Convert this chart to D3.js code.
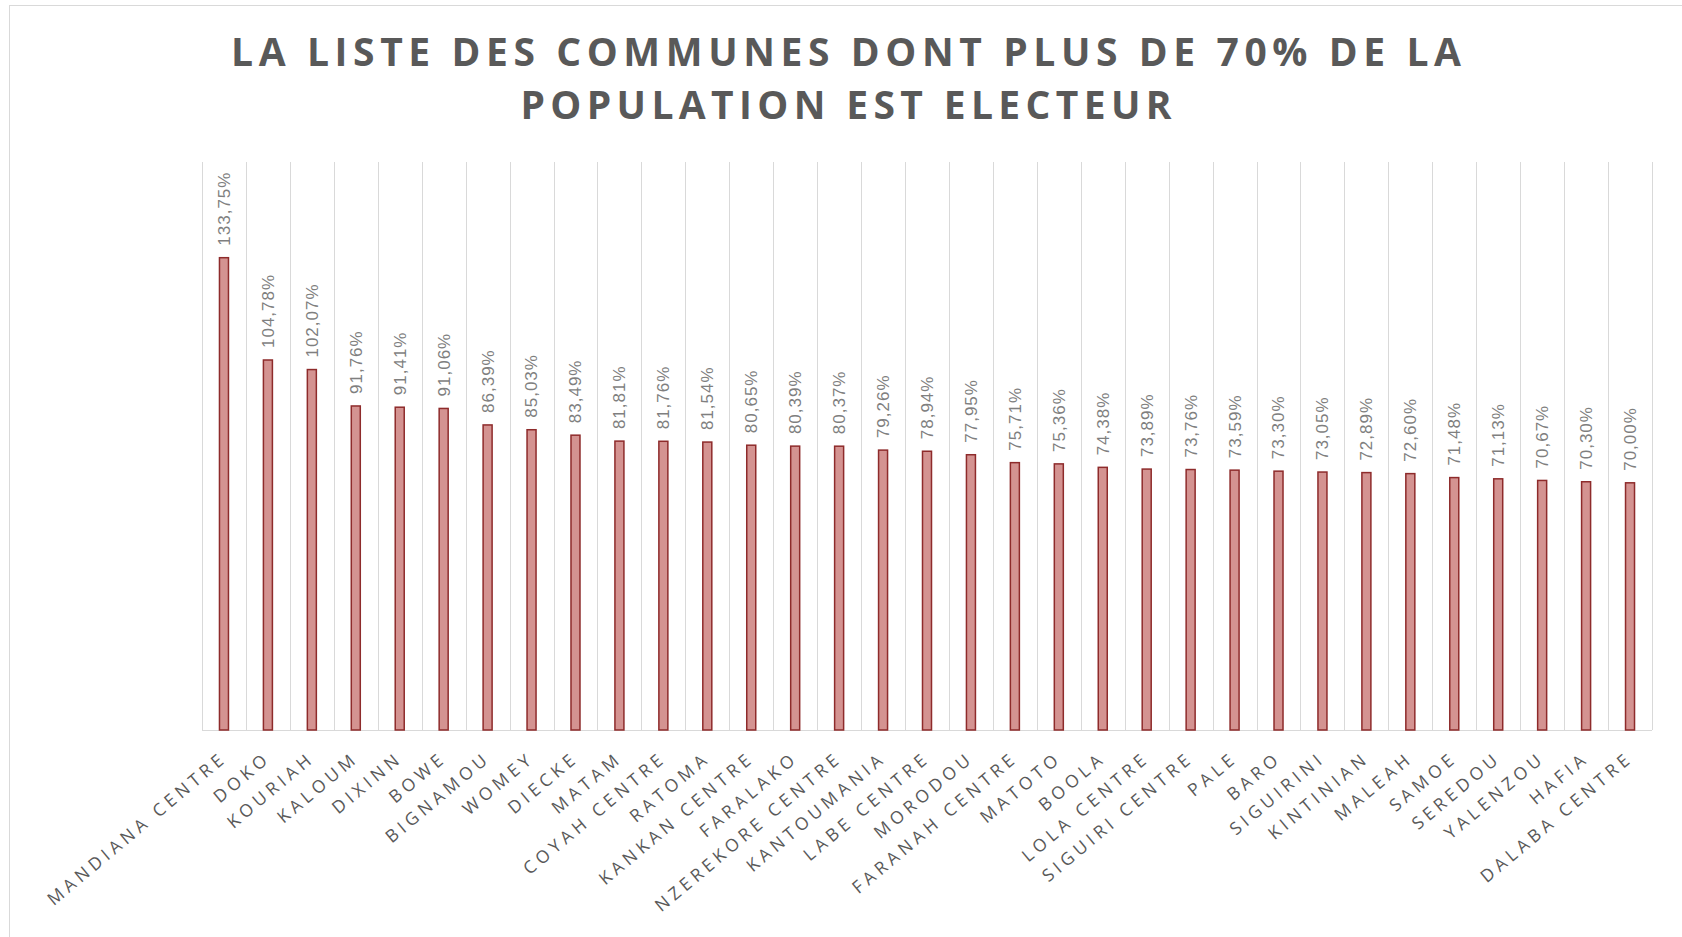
<!DOCTYPE html>
<html>
<head>
<meta charset="utf-8">
<script src="https://cdn.jsdelivr.net/npm/d3@7"></script>
<style>
  body { margin: 0; background: #fff; }
  svg { display: block; }
</style>
</head>
<body>
<svg id="chart" width="1682" height="937"></svg>
<script>
// communes and their share of registered voters (%)
var communes = ["MANDIANA CENTRE", "DOKO", "KOURIAH", "KALOUM", "DIXINN", "BOWE", "BIGNAMOU",
  "WOMEY", "DIECKE", "MATAM", "COYAH CENTRE", "RATOMA", "KANKAN CENTRE", "FARALAKO",
  "NZEREKORE CENTRE", "KANTOUMANIA", "LABE CENTRE", "MORODOU", "FARANAH CENTRE", "MATOTO",
  "BOOLA", "LOLA CENTRE", "SIGUIRI CENTRE", "PALE", "BARO", "SIGUIRINI", "KINTINIAN",
  "MALEAH", "SAMOE", "SEREDOU", "YALENZOU", "HAFIA", "DALABA CENTRE"];
var pourcentages = [133.75, 104.78, 102.07, 91.76, 91.41, 91.06, 86.39, 85.03, 83.49, 81.81,
  81.76, 81.54, 80.65, 80.39, 80.37, 79.26, 78.94, 77.95, 75.71, 75.36, 74.38, 73.89, 73.76,
  73.59, 73.30, 73.05, 72.89, 72.60, 71.48, 71.13, 70.67, 70.30, 70.00];
var titleLines = ["LA LISTE DES COMMUNES DONT PLUS DE 70% DE LA", "POPULATION EST ELECTEUR"];
var yMax = 160;

var svg = d3.select("#chart"),
    margin = {top: 165, right: 30, bottom: 207, left: 202},
    width = +svg.attr("width") - margin.left - margin.right,
    height = +svg.attr("height") - margin.top - margin.bottom;

// chart frame
svg.append("rect")
  .attr("x", 9.5).attr("y", 5.5)
  .attr("width", 1700).attr("height", 1000)
  .attr("fill", "#fff")
  .attr("stroke", "#d9d9d9");

// title
svg.append("g")
  .selectAll("text")
  .data(titleLines)
  .enter().append("text")
  .attr("x", 846)
  .attr("y", function(d, i) { return 66 + i * 53; })
  .attr("text-anchor", "middle")
  .attr("font-family", "'Open Sans', 'Liberation Sans', sans-serif")
  .attr("font-weight", "bold")
  .attr("font-size", 39)
  .attr("fill", "#595959")
  .attr("textLength", function(d, i) { return i === 0 ? 1230 : 651; })
  .attr("lengthAdjust", "spacing")
  .text(function(d) { return d; });

var g = svg.append("g").attr("transform", "translate(" + margin.left + "," + margin.top + ")");

var x = d3.scaleBand()
  .domain(communes)
  .range([0, width])
  .padding(0);

var y = d3.scaleLinear()
  .domain([0, yMax])
  .range([height, 0]);

// vertical category gridlines
g.append("g")
  .selectAll("line")
  .data(d3.range(communes.length + 1))
  .enter().append("line")
  .attr("x1", function(i) { return Math.round(i * x.step()) + 0.5; })
  .attr("x2", function(i) { return Math.round(i * x.step()) + 0.5; })
  .attr("y1", -3)
  .attr("y2", height)
  .attr("stroke", "#d9d9d9");

// baseline
g.append("line")
  .attr("x1", 0).attr("x2", width)
  .attr("y1", height + 0.5).attr("y2", height + 0.5)
  .attr("stroke", "#d9d9d9");

var barW = 9;

// bars
g.append("g")
  .selectAll("rect")
  .data(pourcentages)
  .enter().append("rect")
  .attr("x", function(d, i) { return x(communes[i]) + x.bandwidth() / 2 - barW / 2; })
  .attr("y", function(d) { return y(d); })
  .attr("width", barW)
  .attr("height", function(d) { return height - y(d); })
  .attr("fill", "#d49391")
  .attr("stroke", "#8e2b2b")
  .attr("stroke-width", 1.5);

// data labels
var fmt = function(v) { return v.toFixed(2).replace(".", ",") + "%"; };
g.append("g")
  .selectAll("text")
  .data(pourcentages)
  .enter().append("text")
  .attr("transform", function(d, i) {
    return "translate(" + (x(communes[i]) + x.bandwidth() / 2) + "," + (y(d) - 12) + ") rotate(-90)";
  })
  .attr("dy", "0.35em")
  .attr("font-family", "'Liberation Sans', sans-serif")
  .attr("font-size", 17)
  .attr("letter-spacing", 1)
  .attr("fill", "#7f7f7f")
  .text(fmt);

// category labels
g.append("g")
  .selectAll("text")
  .data(communes)
  .enter().append("text")
  .attr("transform", function(d) {
    return "translate(" + (x(d) + x.bandwidth() / 2 + 4) + "," + (height + 30) + ") rotate(-40)";
  })
  .attr("text-anchor", "end")
  .attr("font-family", "'Open Sans', 'Liberation Sans', sans-serif")
  .attr("font-size", 17.5)
  .attr("letter-spacing", 4.4)
  .attr("fill", "#595959")
  .text(function(d) { return d; });
</script>
</body>
</html>
